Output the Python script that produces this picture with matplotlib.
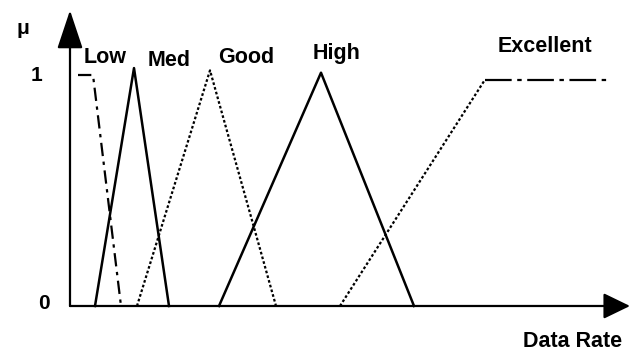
import matplotlib
matplotlib.use("Agg")
import matplotlib.pyplot as plt

plt.rcParams['font.family'] = ['Liberation Sans', 'DejaVu Sans']

# membership functions (x = data rate units, y = membership)
low_x = [0.8, 2.3, 5.1]
low_y = [1.0, 1.0, 0.0]
med_x = [2.5, 6.4, 9.9]
med_y = [0.0, 1.03, 0.0]
good_x = [6.7, 14.0, 20.6]
good_y = [0.0, 1.02, 0.0]
high_x = [14.9, 25.1, 34.4]
high_y = [0.0, 1.01, 0.0]
exc_rise_x = [27.0, 41.5]
exc_rise_y = [0.0, 0.98]
exc_flat_x = [41.5, 54.0]
exc_flat_y = [0.98, 0.98]

labels = ["Low", "Med", "Good", "High", "Excellent"]
label_x = [1.4, 7.8, 14.8, 24.3, 42.8]
label_y = [1.05, 1.04, 1.05, 1.07, 1.10]

fig = plt.figure(figsize=(6.3, 3.56), dpi=100)
ax = fig.add_axes([0, 0, 1, 1])
ax.set_xlim(-7, 56)
ax.set_ylim(-0.2165, 1.3247)
ax.axis("off")

lw = 1.8
ax.plot(low_x, low_y, color="black", lw=1.6, linestyle=(0, (6, 2.5, 1.5, 2.5)))
ax.plot(med_x, med_y, color="black", lw=lw)
ax.plot(good_x, good_y, color="black", lw=1.6, linestyle=(0, (1.2, 1.0)))
ax.plot(high_x, high_y, color="black", lw=lw)
ax.plot(exc_rise_x, exc_rise_y, color="black", lw=1.6, linestyle=(0, (1.2, 1.0)))
ax.plot(exc_flat_x, exc_flat_y, color="black", lw=1.6, linestyle=(0, (12, 2.5, 2, 2.5)))

# axes with arrows
ax.annotate("", xy=(0, 1.28), xytext=(0, 0),
            arrowprops=dict(arrowstyle="-|>,head_length=2.4,head_width=0.8",
                            lw=1.6, color="black", shrinkA=0, shrinkB=0))
ax.annotate("", xy=(56, 0), xytext=(0, 0),
            arrowprops=dict(arrowstyle="-|>,head_length=1.65,head_width=0.8",
                            lw=1.6, color="black", shrinkA=0, shrinkB=0))

for name, lx, ly in zip(labels, label_x, label_y):
    ax.text(lx, ly, name, fontsize=15.5, fontweight="bold", ha="left", va="baseline")

ax.text(-2.8, 1.0, "1", fontsize=15, fontweight="bold", ha="right", va="center")
ax.text(-2.0, 0.01, "0", fontsize=15, fontweight="bold", ha="right", va="center")
ax.text(-5.3, 1.20, "μ", fontsize=15, fontweight="bold", ha="left", va="center")
ax.text(45.3, -0.178, "Data Rate", fontsize=15.5, fontweight="bold", ha="left", va="baseline")

fig.savefig("out.png", dpi=100)
